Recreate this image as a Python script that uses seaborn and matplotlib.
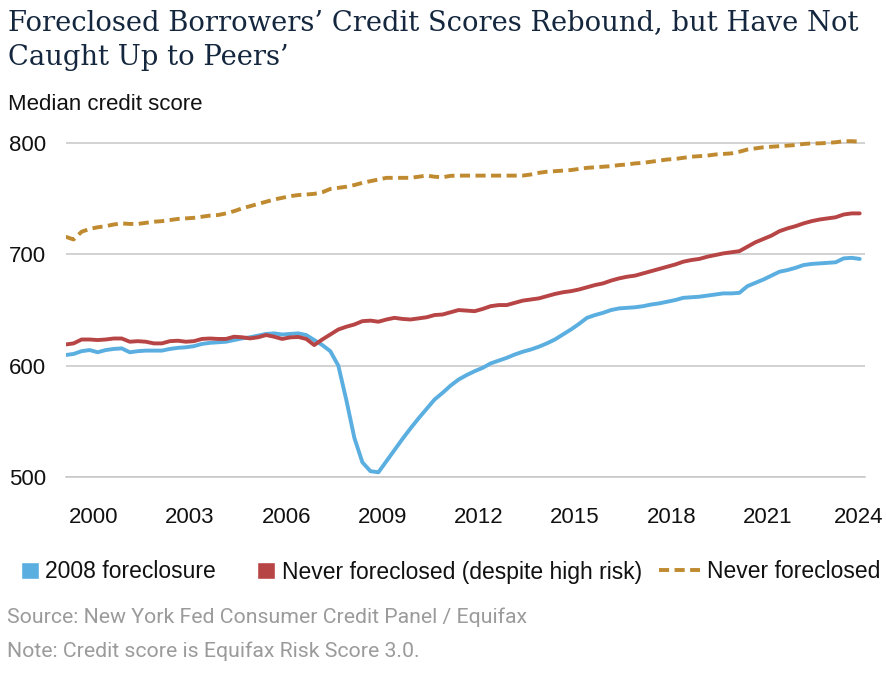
import pandas as pd
import seaborn as sns
import matplotlib
matplotlib.use("Agg")
from matplotlib import pyplot as plt
from matplotlib import transforms
from matplotlib.patches import Patch, Rectangle
from matplotlib.lines import Line2D
from matplotlib.legend_handler import HandlerPatch

# quarterly data, 1999Q1 .. 2023Q4
quarters = pd.period_range("1999Q1", "2023Q4", freq="Q")

foreclosure_2008 = [
    609.5, 610.5, 613, 614, 612, 614, 615, 615.5,
    612, 613, 613.5, 613.5, 613.5, 615, 616, 616.5,
    617.5, 619.5, 620.5, 621, 621.5, 623, 624.5, 625.5,
    627, 628.5, 629, 628, 628.5, 629, 627.5, 623,
    618.5, 613, 600, 569, 535, 513, 505, 504,
    514, 524, 534, 543.5, 552.5, 561, 569.5, 575.5,
    582, 587.5, 591.5, 595, 598, 602, 604.5, 607,
    610, 612.5, 614.5, 617, 620, 623.5, 628, 632.5,
    637.5, 643, 645.5, 647.5, 650, 651.5, 652, 652.5,
    653.5, 655, 656, 657.5, 659, 661, 661.5, 662,
    663, 664, 665, 665, 665.5, 671.5, 674.5, 677.5,
    681, 684.5, 686, 688, 690.5, 691.5, 692, 692.5,
    693, 696.5, 697, 696,
]

never_foreclosed_high_risk = [
    619, 620, 623.5, 623.5, 623, 623.5, 624.4, 624.4,
    621.5, 622, 621.5, 620, 620, 622, 622.4, 621.5,
    622, 624, 624.4, 624, 624, 626, 625.5, 624.5,
    625.5, 627.5, 626, 624, 625.4, 625.8, 624, 618.5,
    623.5, 628, 632.5, 635, 637, 640, 640.5, 639.5,
    641.5, 643, 642, 641.5, 642.5, 643.5, 645.5, 646,
    648, 650, 649.5, 649, 651, 653.5, 654.5, 654.5,
    656.5, 658.5, 659.5, 660.5, 662.5, 664.5, 666, 667,
    668.5, 670.5, 672.5, 674, 676.5, 678.5, 680, 681,
    683, 685, 687, 689, 691, 693.5, 695, 696,
    698, 699.5, 701, 702, 703, 707, 711, 714,
    717, 721, 723.5, 725.5, 728, 730, 731.5, 732.5,
    733.5, 736, 737, 737,
]

never_foreclosed = [
    716, 713.5, 720.5, 723, 724.5, 725.5, 727, 728,
    727.5, 727.5, 728.5, 729.5, 730, 731, 732, 732.5,
    733, 734, 735, 735.5, 737, 739, 741.5, 743.5,
    745.5, 747.5, 749.5, 751, 752.5, 753.5, 754, 754.6,
    756, 759, 760, 761, 762.5, 764.5, 766, 767.5,
    769, 769, 769, 769, 770, 771, 770, 769.5,
    770.8, 771, 771, 771, 771, 771, 771, 771,
    771, 771, 772, 773.5, 774.5, 775, 775.5, 776,
    777, 778, 778.5, 779, 779.5, 780.5, 781, 782,
    782.5, 783.5, 784.5, 785.5, 786, 787, 788, 788.5,
    789, 790, 790.5, 791, 792.5, 794.5, 795.5, 796.5,
    797, 797.5, 798, 798.5, 799.5, 800, 800, 800.5,
    801, 802, 802, 801.5,
]

series_names = ["2008 foreclosure", "Never foreclosed (despite high risk)", "Never foreclosed"]
series_colors = ["#5aaee0", "#b84545", "#bf8a30"]
year_ticks = [2000, 2003, 2006, 2009, 2012, 2015, 2018, 2021, 2024]
score_ticks = [500, 600, 700, 800]


def build_frame():
    year_pos = quarters.year + (quarters.quarter - 0.5) / 4
    frames = []
    for name, values in zip(series_names,
                            [foreclosure_2008, never_foreclosed_high_risk, never_foreclosed]):
        frames.append(pd.DataFrame({"year": year_pos, "score": values, "series": name}))
    return pd.concat(frames, ignore_index=True)


def square_patch(legend, orig_handle, xdescent, ydescent, width, height, fontsize):
    side = 0.77 * fontsize
    return Rectangle((width - xdescent - side, -ydescent + (height - side) / 2), side, side)


def main():
    df = build_frame()

    sns.set_style("white")
    plt.rcParams["font.family"] = ["Liberation Sans", "DejaVu Sans"]

    fig = plt.figure(figsize=(8.86, 6.74), dpi=100)
    ax = fig.add_axes([0.0742, 0.2927, 0.9021, 0.5028])

    palette = dict(zip(series_names, series_colors))
    dashes = {series_names[0]: "", series_names[1]: "", series_names[2]: (2.6, 1.4)}
    sns.lineplot(data=df, x="year", y="score", hue="series", style="series",
                 hue_order=series_names, style_order=series_names,
                 palette=palette, dashes=dashes, linewidth=2.8,
                 errorbar=None, legend=False, ax=ax)

    ax.set_xlim(1999.13, 2024.04)
    ax.set_ylim(500, 805)
    ax.set_xticks(year_ticks)
    ax.set_yticks(score_ticks)
    ax.set_xlabel("")
    ax.set_ylabel("")
    ax.yaxis.grid(True, color="#c6c6c6", linewidth=1.1)
    ax.xaxis.grid(False)
    for side in ["top", "right", "left"]:
        ax.spines[side].set_visible(False)
    ax.spines["bottom"].set_color("#c6c6c6")
    ax.spines["bottom"].set_linewidth(1.1)
    ax.tick_params(axis="x", direction="out", length=7, width=1.1, color="#c6c6c6",
                   labelsize=16, pad=15, labelcolor="#111111")
    ax.tick_params(axis="y", length=0, labelsize=16, pad=14, labelcolor="#111111")

    # last year label sits against the right edge, nudge it in a bit
    last = ax.get_xticklabels()[-1]
    last.set_transform(last.get_transform() +
                       transforms.ScaledTranslation(-5 / 100, 0, fig.dpi_scale_trans))

    fig.text(0.009, 1 - 30 / 674, "Foreclosed Borrowers\u2019 Credit Scores Rebound, but Have Not",
             family="DejaVu Serif", fontsize=19.7, color="#14273e", va="baseline")
    fig.text(0.009, 1 - 65 / 674, "Caught Up to Peers\u2019",
             family="DejaVu Serif", fontsize=19.7, color="#14273e", va="baseline")
    fig.text(0.009, 1 - 110 / 674, "Median credit score", fontsize=16,
             color="#111111", va="baseline")

    handles = [Patch(facecolor=series_colors[0]), Patch(facecolor=series_colors[1]),
               Line2D([], [], color=series_colors[2], linewidth=2.8, dashes=(2.6, 1.4))]
    fig.legend(handles, series_names, ncol=3, frameon=False, fontsize=16.5,
               loc="center left", bbox_to_anchor=(-0.003, 1 - 572 / 674),
               bbox_transform=fig.transFigure, borderpad=0, borderaxespad=0,
               handlelength=1.8, handletextpad=0.3, columnspacing=0.75,
               labelcolor="#111111",
               handler_map={Patch: HandlerPatch(patch_func=square_patch)})

    fig.text(0.008, 1 - 623 / 674, "Source: New York Fed Consumer Credit Panel / Equifax",
             family="Roboto", fontsize=15.3, color="#9b9b9b", va="baseline")
    fig.text(0.008, 1 - 657 / 674, "Note: Credit score is Equifax Risk Score 3.0.",
             family="Roboto", fontsize=15.3, color="#9b9b9b", va="baseline")

    fig.savefig("out.png", dpi=100)


if __name__ == "__main__":
    main()
